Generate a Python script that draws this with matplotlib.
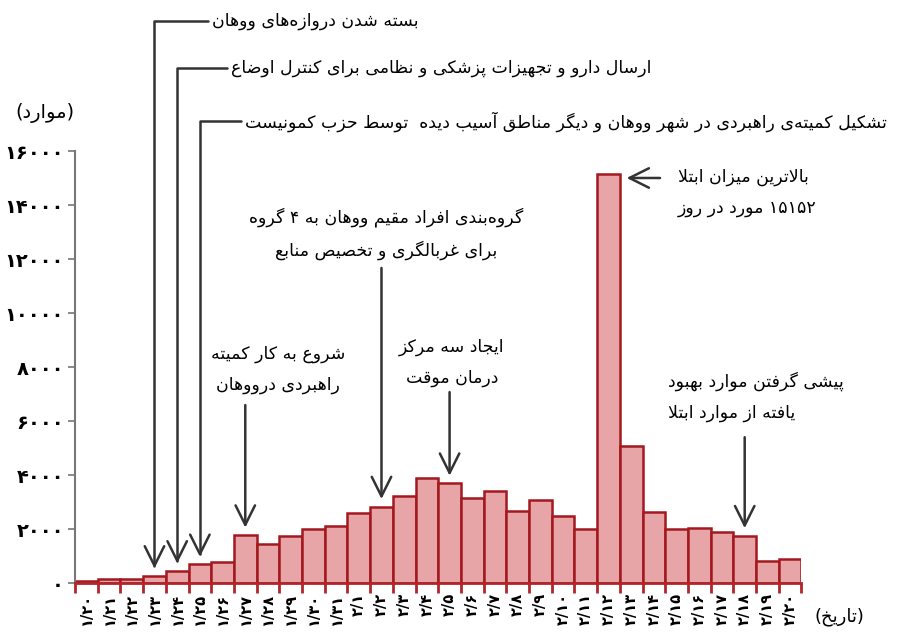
import numpy as np
import matplotlib
matplotlib.use('Agg')
import matplotlib.pyplot as plt

# daily new cases, 1/20 .. 2/20
dates = ['۱/۲۰', '۱/۲۱', '۱/۲۲', '۱/۲۳', '۱/۲۴', '۱/۲۵', '۱/۲۶', '۱/۲۷',
         '۱/۲۸', '۱/۲۹', '۱/۳۰', '۱/۳۱', '۲/۱', '۲/۲', '۲/۳', '۲/۴',
         '۲/۵', '۲/۶', '۲/۷', '۲/۸', '۲/۹', '۲/۱۰', '۲/۱۱', '۲/۱۲',
         '۲/۱۳', '۲/۱۴', '۲/۱۵', '۲/۱۶', '۲/۱۷', '۲/۱۸', '۲/۱۹', '۲/۲۰']
cases = [77, 149, 131, 259, 444, 688, 769, 1771, 1459, 1737, 1982, 2102,
         2590, 2829, 3235, 3887, 3694, 3143, 3399, 2656, 3062, 2478, 2015, 15152,
         5090, 2641, 2008, 2048, 1886, 1749, 820, 889]
yticks = [0, 2000, 4000, 6000, 8000, 10000, 12000, 14000, 16000]
yticklabels = ['۰', '۲۰۰۰', '۴۰۰۰', '۶۰۰۰', '۸۰۰۰', '۱۰۰۰۰', '۱۲۰۰۰', '۱۴۰۰۰', '۱۶۰۰۰']

ylabel = '(موارد)'
xlabel = '(تاریخ)'

# matplotlib 3.10 has no arabic shaping, so do a small one by hand
ZWNJ = '\u200c'
FORMS = {
    'ا': (0xFE8D, 0xFE8E), 'آ': (0xFE81, 0xFE82),
    'ب': (0xFE8F, 0xFE90, 0xFE91, 0xFE92), 'پ': (0xFB56, 0xFB57, 0xFB58, 0xFB59),
    'ت': (0xFE95, 0xFE96, 0xFE97, 0xFE98), 'ث': (0xFE99, 0xFE9A, 0xFE9B, 0xFE9C),
    'ج': (0xFE9D, 0xFE9E, 0xFE9F, 0xFEA0), 'چ': (0xFB7A, 0xFB7B, 0xFB7C, 0xFB7D),
    'ح': (0xFEA1, 0xFEA2, 0xFEA3, 0xFEA4), 'خ': (0xFEA5, 0xFEA6, 0xFEA7, 0xFEA8),
    'د': (0xFEA9, 0xFEAA), 'ذ': (0xFEAB, 0xFEAC), 'ر': (0xFEAD, 0xFEAE),
    'ز': (0xFEAF, 0xFEB0), 'ژ': (0xFB8A, 0xFB8B),
    'س': (0xFEB1, 0xFEB2, 0xFEB3, 0xFEB4), 'ش': (0xFEB5, 0xFEB6, 0xFEB7, 0xFEB8),
    'ص': (0xFEB9, 0xFEBA, 0xFEBB, 0xFEBC), 'ض': (0xFEBD, 0xFEBE, 0xFEBF, 0xFEC0),
    'ط': (0xFEC1, 0xFEC2, 0xFEC3, 0xFEC4), 'ظ': (0xFEC5, 0xFEC6, 0xFEC7, 0xFEC8),
    'ع': (0xFEC9, 0xFECA, 0xFECB, 0xFECC), 'غ': (0xFECD, 0xFECE, 0xFECF, 0xFED0),
    'ف': (0xFED1, 0xFED2, 0xFED3, 0xFED4), 'ق': (0xFED5, 0xFED6, 0xFED7, 0xFED8),
    'ک': (0xFB8E, 0xFB8F, 0xFB90, 0xFB91), 'گ': (0xFB92, 0xFB93, 0xFB94, 0xFB95),
    'ل': (0xFEDD, 0xFEDE, 0xFEDF, 0xFEE0), 'م': (0xFEE1, 0xFEE2, 0xFEE3, 0xFEE4),
    'ن': (0xFEE5, 0xFEE6, 0xFEE7, 0xFEE8), 'و': (0xFEED, 0xFEEE),
    'ه': (0xFEE9, 0xFEEA, 0xFEEB, 0xFEEC), 'ی': (0xFBFC, 0xFBFD, 0xFBFE, 0xFBFF),
}
LAM_ALEF = {'ا': (0xFEFB, 0xFEFC), 'آ': (0xFEF5, 0xFEF6)}
DIGITS = '0123456789۰۱۲۳۴۵۶۷۸۹'
MIRROR = {'(': ')', ')': '('}


def dual(c):
    return c in FORMS and len(FORMS[c]) == 4


def shape(word):
    out = []
    i = 0
    n = len(word)
    while i < n:
        c = word[i]
        if c not in FORMS:
            if c != ZWNJ:
                out.append(c)
            i += 1
            continue
        prev = word[i - 1] if i > 0 else ''
        joined_prev = dual(prev)
        if c == 'ل' and i + 1 < n and word[i + 1] in LAM_ALEF:
            out.append(chr(LAM_ALEF[word[i + 1]][1 if joined_prev else 0]))
            i += 2
            continue
        nxt = word[i + 1] if i + 1 < n else ''
        joined_next = dual(c) and nxt in FORMS
        f = FORMS[c]
        if joined_prev and joined_next:
            g = f[3]
        elif joined_prev:
            g = f[1]
        elif joined_next:
            g = f[2]
        else:
            g = f[0]
        out.append(chr(g))
        i += 1
    return ''.join(out)


def fa(text):
    lines = []
    for line in text.split('\n'):
        s = shape(line)
        runs = []
        for ch in s:
            is_num = ch in DIGITS
            if runs and runs[-1][0] == is_num:
                runs[-1][1].append(ch)
            else:
                runs.append((is_num, [ch]))
        out = []
        for is_num, chars in reversed(runs):
            if is_num:
                out.append(''.join(chars))
            else:
                out.append(''.join(MIRROR.get(ch, ch) for ch in reversed(chars)))
        lines.append(''.join(out))
    return '\n'.join(lines)


plt.rcParams['font.family'] = ['DejaVu Sans']

fig = plt.figure(figsize=(9.06, 6.43), dpi=100)
ax = fig.add_axes([0.0828, 0.0933, 0.8018, 0.6718])

x = np.arange(len(cases))
ax.bar(x, cases, width=1.0, color='#e7a5a8', edgecolor='#a3191f', linewidth=1.8, zorder=2)

ax.set_xlim(-0.5, len(cases) - 0.5)
ax.set_ylim(0, 16000)
ax.set_yticks(yticks)
ax.set_yticklabels(yticklabels, fontweight='bold')
ax.set_xticks(x)
ax.set_xticklabels(dates, rotation=90, fontweight='bold')
ax.set_xticks(np.arange(len(cases) + 1) - 0.5, minor=True)
ax.tick_params(axis='x', which='major', length=0, pad=7, labelsize=10.5)
ax.tick_params(axis='x', which='minor', length=7, width=2, color='#b0262b', direction='out')
ax.tick_params(axis='y', length=5, width=1.2, color='#777777', labelsize=14, pad=3)

for s in ['top', 'right']:
    ax.spines[s].set_visible(False)
ax.spines['left'].set_color('#777777')
ax.spines['left'].set_linewidth(1.5)
ax.spines['bottom'].set_color('#b0262b')
ax.spines['bottom'].set_linewidth(2)
ax.spines['bottom'].set_zorder(3)

ax.text(-0.041, 1.088, fa(ylabel), transform=ax.transAxes, ha='center', va='center', fontsize=14)
ax.text(1.052, -0.079, fa(xlabel), transform=ax.transAxes, ha='center', va='center', fontsize=13)

arrow = dict(arrowstyle='->,head_length=0.7,head_width=0.35', color='#333333', lw=1.8,
             shrinkA=0, shrinkB=0, mutation_scale=20)
corner = dict(arrow, connectionstyle='angle,angleA=0,angleB=90,rad=0')
fs = 12.5
gap = 280

# top three notes with bent leaders
top_notes = [
    (3, 'بسته شدن دروازه‌های ووهان', 5.54, 20800),
    (4, 'ارسال دارو و تجهیزات پزشکی و نظامی برای کنترل اوضاع', 6.37, 19070),
    (5, 'تشکیل کمیته‌ی راهبردی در شهر ووهان و دیگر مناطق آسیب دیده  توسط حزب کمونیست', 6.99, 17100),
]
for i, txt, tx, ty in top_notes:
    ax.text(tx, ty, fa(txt), ha='left', va='center', fontsize=fs, clip_on=False)
    ax.annotate('', xy=(i, cases[i] + gap), xytext=(tx - 0.18, ty),
                arrowprops=corner, annotation_clip=False)

# notes with vertical arrows
notes = [
    (7, 'شروع به کار کمیته\nراهبردی درووهان', 8.44, 7900, 6590),
    (13, 'گروه‌بندی افراد مقیم ووهان به ۴ گروه\nبرای غربالگری و تخصیص منابع', 13.2, 12940, 11670),
    (16, 'ایجاد سه مرکز\nدرمان موقت', 16.1, 8170, 7070),
]
for i, txt, tx, ty, ay in notes:
    ax.text(tx, ty, fa(txt), ha='center', va='center', fontsize=fs,
            linespacing=1.9, clip_on=False)
    ax.annotate('', xy=(i, cases[i] + gap), xytext=(i, ay),
                arrowprops=arrow, annotation_clip=False)

# peak
peak = int(np.argmax(cases))
ax.text(26.06, 14480, fa('بالاترین میزان ابتلا\n۱۵۱۵۲ مورد در روز'), ha='left', va='center',
        fontsize=fs, linespacing=1.9, clip_on=False)
ax.annotate('', xy=(peak + 0.8, cases[peak] - 150), xytext=(25.27, cases[peak] - 150),
            arrowprops=arrow, annotation_clip=False)

# recoveries overtake
ax.text(25.62, 6900, fa('پیشی گرفتن موارد بهبود\nیافته از موارد ابتلا'), ha='left', va='center',
        fontsize=fs, linespacing=1.9, multialignment='left', clip_on=False)
ax.annotate('', xy=(29, cases[29] + gap), xytext=(29, 5400),
            arrowprops=arrow, annotation_clip=False)

fig.savefig('out.png', dpi=100)
